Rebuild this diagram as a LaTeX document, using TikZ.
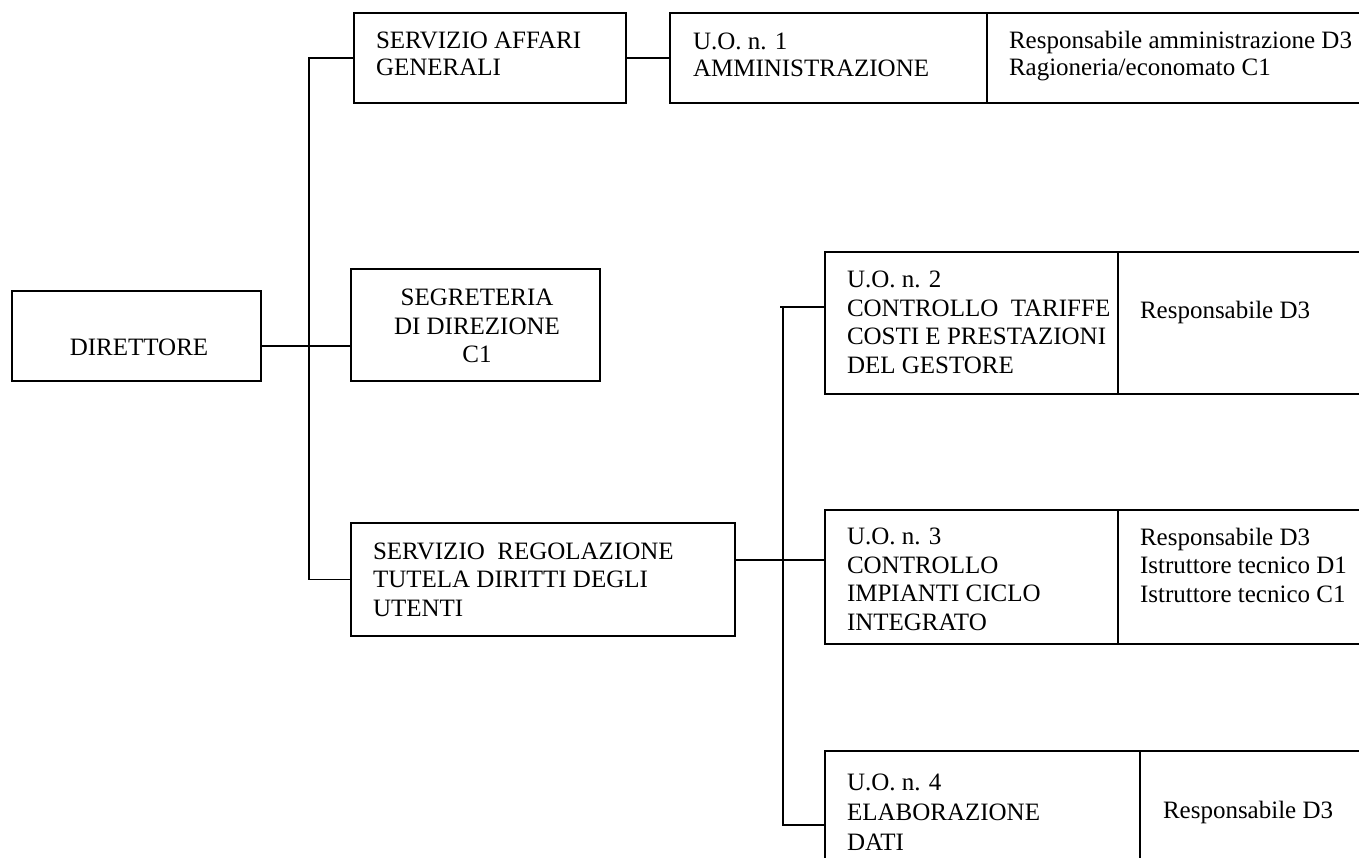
\documentclass[tikz,border=0pt]{standalone}
\usepackage{fontspec}
\setmainfont{Liberation Serif}
\newfontfamily\tnr{Liberation Serif}
\begin{document}
\begin{tikzpicture}[x=1pt,y=-1pt,
  box/.style={draw, line width=1.8pt, rectangle, inner sep=0pt, outer sep=0pt, anchor=north west},
  lbl/.style={inner sep=0pt, outer sep=0pt, anchor=base west, align=left, font=\tnr\fontsize{25}{28.5}\selectfont},
  toplbl/.style={lbl, font=\tnr\fontsize{25}{27}\selectfont},
  wire/.style={line width=1.8pt}]
\useasboundingbox (0,0) rectangle (1359,858);
\clip (0,0) rectangle (1359,858);

% boxes
\node[box, minimum width=249pt, minimum height=90pt]  (dir)  at (12,291) {};
\node[box, minimum width=272pt, minimum height=90pt]  (saf)  at (354,13) {};
\node[box, minimum width=317pt, minimum height=90pt]  (uo1)  at (670,13) {};
\node[box, minimum width=400pt, minimum height=90pt]  (uo1r) at (987,13) {};
\node[box, minimum width=249pt, minimum height=112pt] (seg)  at (351,269) {};
\node[box, minimum width=384pt, minimum height=113pt] (srg)  at (351,523) {};
\node[box, minimum width=293pt, minimum height=142pt] (uo2)  at (825,252) {};
\node[box, minimum width=270pt, minimum height=142pt] (uo2r) at (1118,252) {};
\node[box, minimum width=293pt, minimum height=134pt] (uo3)  at (825,510) {};
\node[box, minimum width=270pt, minimum height=134pt] (uo3r) at (1118,510) {};
\node[box, minimum width=315pt, minimum height=140pt] (uo4)  at (825,751) {};
\node[box, minimum width=250pt, minimum height=140pt] (uo4r) at (1140,751) {};

% texts (anchor = baseline of the last line)
\node[lbl, anchor=base] (tdir) at (139,355) {DIRETTORE};
\node[toplbl] (tsaf) at (376,76) {SERVIZIO AFFARI\\GENERALI};
\node[toplbl] (tuo1) at (693,77) {U.O. n. 1\\AMMINISTRAZIONE};
\node[toplbl] (tuo1r) at (1009,76) {Responsabile amministrazione D3\\Ragioneria/economato C1};
\node[lbl, anchor=base, align=center, font=\tnr\fontsize{25}{28}\selectfont] (tseg) at (477,362) {SEGRETERIA\\DI DIREZIONE\\C1};
\node[lbl] (tsrg) at (373,616) {SERVIZIO\ \ REGOLAZIONE\\TUTELA DIRITTI DEGLI\\UTENTI};
\node[lbl] (tuo2) at (847,373) {U.O. n. 2\\CONTROLLO\ \ TARIFFE\\COSTI E PRESTAZIONI\\DEL GESTORE};
\node[lbl] (tuo2r) at (1140,319) {Responsabile D3};
\node[lbl] (tuo3) at (847,630) {U.O. n. 3\\CONTROLLO\\IMPIANTI CICLO\\INTEGRATO};
\node[lbl] (tuo3r) at (1140,602) {Responsabile D3\\Istruttore tecnico D1\\Istruttore tecnico C1};
\node[lbl, font=\tnr\fontsize{25}{30}\selectfont] (tuo4) at (847,850) {U.O. n. 4\\ELABORAZIONE\\DATI};
\node[lbl] (tuo4r) at (1163,818) {Responsabile D3};

% connectors
\coordinate (tr1) at (309,0);
\coordinate (tr2) at (783,0);
\coordinate (j2) at (780,307);
\coordinate (j3) at (783,560);
\coordinate (j4) at (783,825);
\draw[wire] (saf.west) -| (tr1 |- srg.west) -- (srg.west);
\draw[wire] ([yshift=-10pt]dir.east) -- ([yshift=-10pt]dir.east -| seg.west);
\draw[wire] (saf.east) -- (uo1.west);
\draw[wire] (srg.east |- j3) -- (uo3.west |- j3);
\draw[wire] (uo2.west |- j2) -- (j2);
\draw[wire] (tr2 |- j2) -- (j4) -- (uo4.west |- j4);
\end{tikzpicture}
\end{document}
